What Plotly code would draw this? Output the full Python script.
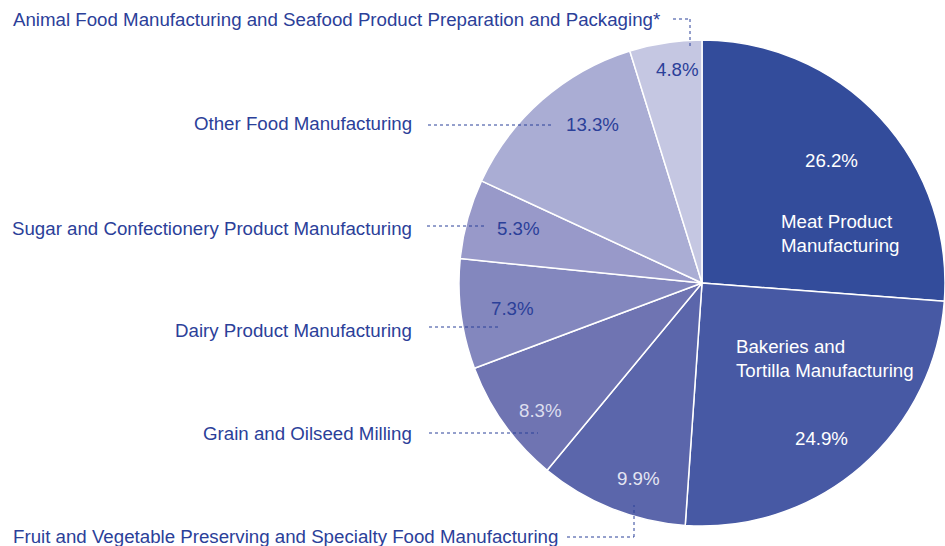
import plotly.graph_objects as go

W, H = 945, 546

categories = [
    "Meat Product Manufacturing",
    "Bakeries and Tortilla Manufacturing",
    "Fruit and Vegetable Preserving and Specialty Food Manufacturing",
    "Grain and Oilseed Milling",
    "Dairy Product Manufacturing",
    "Sugar and Confectionery Product Manufacturing",
    "Other Food Manufacturing",
    "Animal Food Manufacturing and Seafood Product Preparation and Packaging*",
]
values = [26.2, 24.9, 9.9, 8.3, 7.3, 5.3, 13.3, 4.8]
colors = ["#334C9B", "#4759A4", "#5B66AB", "#6F74B2", "#8387BE", "#9899C9", "#AAADD4", "#C5C7E2"]

DARK = "#2B4099"
FONT = "Liberation Sans, Arial, Helvetica, sans-serif"
FS = 18.7

# pie geometry in pixels
cx, cy, r = 702, 283, 243

def px(x):
    return x / W

def py(y):
    return 1 - y / H

fig = go.Figure()
fig.add_trace(go.Pie(
    labels=categories,
    values=values,
    sort=False,
    direction="clockwise",
    rotation=0,
    marker=dict(colors=colors, line=dict(color="white", width=1.5)),
    textinfo="none",
    hoverinfo="label+percent",
    showlegend=False,
    domain=dict(x=[px(cx - r), px(cx + r)], y=[py(cy + r), py(cy - r)]),
))

annotations = []

def ann(x, y, text, color, xanchor="center", align="center", size=FS):
    annotations.append(dict(
        x=px(x), y=py(y), xref="paper", yref="paper", text=text, showarrow=False,
        xanchor=xanchor, yanchor="middle", align=align,
        font=dict(family=FONT, size=size, color=color),
    ))

# values in slices
pct = [f"{v:.1f}%" for v in values]
ann(831, 160, pct[0], "white")
ann(779, 233, "Meat Product<br>Manufacturing", "white", xanchor="left", align="left")
ann(734, 358, "Bakeries and<br>Tortilla Manufacturing", "white", xanchor="left", align="left")
ann(821, 438, pct[1], "white")
ann(638, 478, pct[2], "#E4E5F2")
ann(540, 410, pct[3], "#DCDDEE")
ann(512, 308, pct[4], DARK)
ann(518, 228, pct[5], DARK)
ann(592, 125, pct[6], DARK)
ann(677, 69, pct[7], DARK)

# outside category labels
ann(11, 20, categories[7], DARK, xanchor="left", align="left")
ann(414, 124, categories[6], DARK, xanchor="right", align="right")
ann(414, 228, categories[5], DARK, xanchor="right", align="right")
ann(414, 330, categories[4], DARK, xanchor="right", align="right")
ann(414, 433, categories[3], DARK, xanchor="right", align="right")
ann(11, 536, categories[2], DARK, xanchor="left", align="left")

fig.update_layout(annotations=annotations)

# dotted leader lines
leaders = [
    [(673, 19), (690, 19), (690, 46)],
    [(428, 125), (553, 125)],
    [(427, 226), (487, 226)],
    [(429, 327), (499, 327)],
    [(429, 433), (538, 433)],
    [(567, 537), (634, 537), (634, 505)],
]
for pts in leaders:
    for (x0, y0), (x1, y1) in zip(pts[:-1], pts[1:]):
        fig.add_shape(type="line", xref="paper", yref="paper",
                      x0=px(x0), y0=py(y0), x1=px(x1), y1=py(y1),
                      line=dict(color=DARK, width=1, dash="dot"))

fig.update_layout(
    width=W, height=H,
    margin=dict(l=0, r=0, t=0, b=0),
    paper_bgcolor="white", plot_bgcolor="white",
    font=dict(family=FONT),
)

fig.write_html("out.html",
               config={"displayModeBar": False},
               post_script="document.body.style.margin='0';document.body.style.overflow='hidden';")
